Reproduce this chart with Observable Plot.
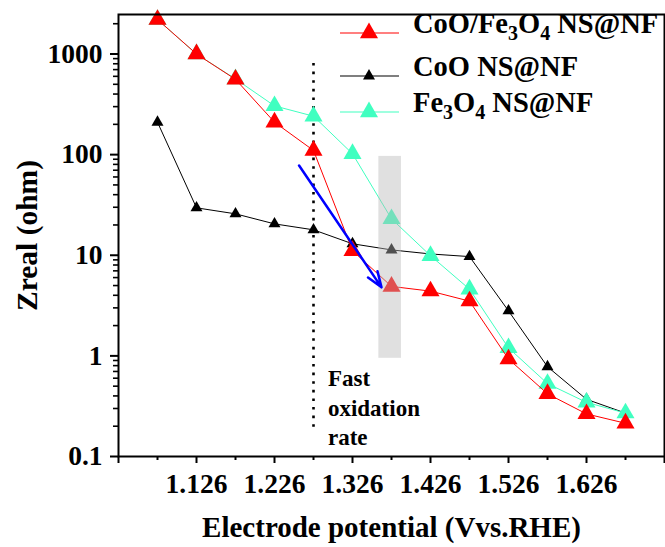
<!DOCTYPE html>
<html><head><meta charset="utf-8">
<script src="https://cdn.jsdelivr.net/npm/d3@7"></script>
<script src="https://cdn.jsdelivr.net/npm/@observablehq/plot@0.6"></script>
<style>body{margin:0;background:#fff}#chart{width:665px;height:547px}</style>
</head><body><div id="chart"></div>
<script>
// ---- data ----
const potentials = [1.076, 1.126, 1.176, 1.226, 1.276, 1.326, 1.376, 1.426, 1.476, 1.526, 1.576, 1.626, 1.676];
const zCoOFe3O4 = [2200, 1000, 560, 210, 110, 11.1, 4.9, 4.4, 3.5, 0.93, 0.42, 0.265, 0.214];
const zCoO      = [210, 29.6, 25.8, 20.5, 17.9, 13.0, 11.3, 10.3, 9.7, 2.8, 0.78, 0.37, 0.27];
const zFe3O4    = [2200, 1000, 565, 305, 241, 102, 23, 9.9, 4.6, 1.2, 0.53, 0.345, 0.27];
const seriesNames = ["CoO/Fe3O4 NS@NF", "CoO NS@NF", "Fe3O4 NS@NF"];
const xMajorTicks = [1.026, 1.126, 1.226, 1.326, 1.426, 1.526, 1.626, 1.726];
const xLabeledTicks = [1.126, 1.226, 1.326, 1.426, 1.526, 1.626];
const xMinorTicks = [1.076, 1.176, 1.276, 1.376, 1.476, 1.576, 1.676];
const yMajorTicks = [0.1, 1, 10, 100, 1000];
const yMinorTicks = [2,3,4,5,6,7,8,9].flatMap(m => [0.1, 1, 10, 100, 1000].map(d => m * d)).filter(v => v < 2470);
// annotations (data coordinates)
const fastLine = {x: 1.276, y1: 0.195, y2: 900};
const shade = {x1: 1.3598, x2: 1.3888, y1: 0.946, y2: 96};
const arrowSpec = {x1: 1.2575, y1: 78, x2: 1.3632, y2: 4.8};
const noteSpec = {x: 1.2945, y: 0.315, text: "Fast\noxidation\nrate"};

const RED = "#ff0000", BLACK = "#000000", CYAN = "#40ffc0";
const styles = {
  "CoO/Fe3O4 NS@NF": {color: RED, r: 6.7, values: zCoOFe3O4},
  "CoO NS@NF": {color: BLACK, r: 4.45, values: zCoO},
  "Fe3O4 NS@NF": {color: CYAN, r: 6.7, values: zFe3O4}
};
const drawOrder = ["CoO NS@NF", "Fe3O4 NS@NF", "CoO/Fe3O4 NS@NF"];

const seriesMarks = drawOrder.flatMap(name => {
  const s = styles[name];
  const rows = potentials.map((x, i) => ({x, y: s.values[i]}));
  return [
    Plot.line(rows, {x: "x", y: "y", stroke: s.color, strokeWidth: 1}),
    Plot.dot(rows, {x: "x", y: "y", symbol: "triangle", r: s.r, fill: s.color, stroke: "none"})
  ];
});

const svg = Plot.plot({
  width: 665, height: 547,
  marginLeft: 118, marginRight: 1, marginTop: 14, marginBottom: 91,
  style: {fontFamily: "'Liberation Serif', 'Times New Roman', serif", fontWeight: "bold", background: "#fff", color: "#000"},
  x: {domain: [1.026, 1.726], label: null},
  y: {type: "log", domain: [0.1, 2470], label: null},
  marks: [
    Plot.ruleX([fastLine], {x: "x", y1: "y1", y2: "y2", stroke: "#000", strokeWidth: 2.6, strokeDasharray: "2.6,6"}),
    ...seriesMarks,
    Plot.rect([shade], {x1: "x1", x2: "x2", y1: "y1", y2: "y2", fill: "rgb(184,184,184)", fillOpacity: 0.435}),
    Plot.arrow([arrowSpec], {x1: "x1", y1: "y1", x2: "x2", y2: "y2", stroke: "#0000ff", strokeWidth: 2.5, headLength: 10, headAngle: 40}),
    Plot.text([noteSpec], {x: "x", y: "y", text: "text", textAnchor: "start", lineAnchor: "middle", fontSize: 23, lineHeight: 1.27, fill: "#000"}),
    Plot.axisX({ticks: xMajorTicks, tickSize: 7, tickPadding: 10, strokeWidth: 2, fontSize: 27.5,
      tickFormat: d => xLabeledTicks.some(t => Math.abs(t - d) < 1e-9) ? d.toFixed(3) : ""}),
    Plot.axisX({ticks: xMinorTicks, tickSize: 4, strokeWidth: 2, tickFormat: () => ""}),
    Plot.axisY({ticks: yMajorTicks, tickSize: 8, tickPadding: 8, strokeWidth: 2, fontSize: 27.5,
      tickFormat: d => d < 1 ? "0.1" : String(d)}),
    Plot.axisY({ticks: yMinorTicks, tickSize: 5, strokeWidth: 1.6, tickFormat: () => ""}),
    Plot.text(["Zreal (ohm)"], {frameAnchor: "left", dx: -91, rotate: -90, text: d => d, fontSize: 29.5, textAnchor: "middle", lineAnchor: "middle"}),
    Plot.text(["Electrode potential (Vvs.RHE)"], {frameAnchor: "bottom", dy: 71, text: d => d, fontSize: 29, textAnchor: "middle", lineAnchor: "middle"}),
    Plot.frame({stroke: "#000", strokeWidth: 2})
  ]
});

// ---- legend (inside the frame, top-right) ----
const lg = d3.select(svg).append("g").attr("class", "legend").attr("text-anchor", "start");
const rowY = [33, 76, 112];
seriesNames.forEach((name, i) => {
  const s = styles[name];
  const y = rowY[i];
  lg.append("line").attr("x1", 340).attr("x2", 399).attr("y1", y).attr("y2", y)
    .attr("stroke", s.color).attr("stroke-width", 1.2);
  lg.append("path").attr("transform", `translate(369,${y})`)
    .attr("d", d3.symbol(d3.symbolTriangle, Math.PI * s.r * s.r)())
    .attr("fill", s.color);
  const t = lg.append("text").attr("x", 413).attr("y", y).attr("dy", "0.34em")
    .attr("text-anchor", "start")
    .attr("font-size", 28.5).attr("font-weight", "bold").attr("fill", "#000");
  // split digits after element symbols into subscripts
  const parts = name.split(/(?<=[A-Za-z])(\d)/);
  let lowered = false;
  parts.forEach((p, k) => {
    if (!p) return;
    if (k % 2 === 1) {
      t.append("tspan").attr("font-size", 20).attr("dy", lowered ? 0 : 7).text(p);
      lowered = true;
    } else {
      t.append("tspan").attr("dy", lowered ? -7 : 0).text(p);
      lowered = false;
    }
  });
});

document.getElementById("chart").appendChild(svg);
</script>
</body></html>
